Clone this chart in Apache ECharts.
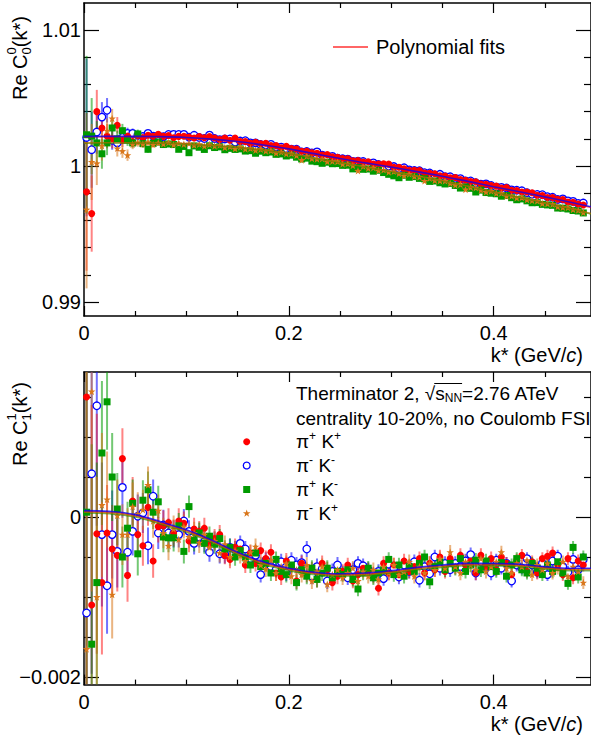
<!DOCTYPE html>
<html>
<head>
<meta charset="utf-8">
<script src="https://cdn.jsdelivr.net/npm/echarts@6/dist/echarts.min.js"></script>
<style>
html, body { margin: 0; padding: 0; background: #fff; }
#chart { width: 591px; height: 738px; }
</style>
</head>
<body>
<div id="chart"></div>
<script>
// bin centres (GeV/c)
var kBins = [0.0025,0.0075,0.0125,0.0175,0.0225,0.0275,0.0325,0.0375,0.0425,0.0475,
  0.0525,0.0575,0.0625,0.0675,0.0725,0.0775,0.0825,0.0875,0.0925,0.0975,
  0.1025,0.1075,0.1125,0.1175,0.1225,0.1275,0.1325,0.1375,0.1425,0.1475,
  0.1525,0.1575,0.1625,0.1675,0.1725,0.1775,0.1825,0.1875,0.1925,0.1975,
  0.2025,0.2075,0.2125,0.2175,0.2225,0.2275,0.2325,0.2375,0.2425,0.2475,
  0.2525,0.2575,0.2625,0.2675,0.2725,0.2775,0.2825,0.2875,0.2925,0.2975,
  0.3025,0.3075,0.3125,0.3175,0.3225,0.3275,0.3325,0.3375,0.3425,0.3475,
  0.3525,0.3575,0.3625,0.3675,0.3725,0.3775,0.3825,0.3875,0.3925,0.3975,
  0.4025,0.4075,0.4125,0.4175,0.4225,0.4275,0.4325,0.4375,0.4425,0.4475,
  0.4525,0.4575,0.4625,0.4675,0.4725,0.4775,0.4825,0.4875];

// Re C00 (top panel)
var topRed = [0.9981,0.9965,1.004,1.0028,1.0022,1.002,1.003,1.0019,1.0022,1.0018,
  1.00224,1.0021,1.00227,1.00218,1.00233,1.00218,1.00224,1.00208,1.00218,1.00219,
  1.00213,1.00206,1.00217,1.00208,1.00217,1.00206,1.00195,1.00205,1.00189,1.00205,
  1.00181,1.00181,1.00168,1.00175,1.00164,1.00167,1.0015,1.0015,1.00135,1.00146,
  1.00128,1.00125,1.00108,1.00109,1.00098,1.00094,1.00081,1.00084,1.00068,1.00065,
  1.00055,1.00054,1.00039,1.0004,1.0003,1.00032,1.00015,1.00014,1.00016,1.00015,
  0.99991,0.99991,0.9998,0.99969,0.99969,0.99967,0.99948,0.99947,0.99943,0.99929,
  0.99927,0.99914,0.99915,0.999,0.99896,0.99886,0.99885,0.99867,0.99866,0.99856,
  0.99852,0.99838,0.99842,0.99822,0.9982,0.99809,0.99809,0.99804,0.99785,0.99783,
  0.99769,0.99768,0.99756,0.99754,0.99736,0.99734,0.99721,0.99714];
var topBlue = [1.0021,1.0012,1.0025,1.0036,1.0041,1.0019,1.0017,1.0021,1.0024,1.0024,
  1.00226,1.00217,1.0024,1.0022,1.00222,1.00216,1.00232,1.00233,1.00232,1.00233,
  1.00212,1.00226,1.0021,1.00202,1.00227,1.00202,1.00194,1.00199,1.00199,1.00176,
  1.00184,1.00186,1.0017,1.0017,1.00158,1.00156,1.00159,1.00141,1.00139,1.00128,
  1.00124,1.00123,1.00103,1.00107,1.00097,1.00104,1.0008,1.00064,1.00071,1.00058,
  1.00053,1.00051,1.00034,1.00036,1.00033,1.0002,1.00023,1.00011,0.99993,1.0,
  0.99996,0.99982,0.99987,0.99972,0.99967,0.99965,0.99951,0.99949,0.99934,0.99939,
  0.99922,0.99921,0.99909,0.99907,0.99891,0.9989,0.99877,0.99867,0.99869,0.99857,
  0.99845,0.99843,0.99838,0.99825,0.99822,0.99818,0.99803,0.99792,0.99791,0.99789,
  0.99774,0.9977,0.99754,0.99758,0.99744,0.9974,0.99725,0.99728];
var topGreen = [1.0023,1.0022,1.0017,1.0009,1.0017,1.0028,1.002,1.0026,1.0019,1.0017,
  1.00236,1.00165,1.00123,1.00167,1.00177,1.00158,1.00162,1.00158,1.00123,1.00144,
  1.00098,1.00148,1.00138,1.00122,1.00149,1.00136,1.00141,1.0012,1.0013,1.00122,
  1.00126,1.0011,1.00113,1.00094,1.00109,1.00098,1.00103,1.00086,1.00089,1.00074,
  1.0008,1.00065,1.00052,1.00058,1.00036,1.00032,1.0002,1.00028,1.00017,1.00018,
  1.00005,1.00006,0.99979,0.99988,0.99976,0.99978,0.99962,0.99969,0.99952,0.99939,
  0.99928,0.99914,0.99932,0.99917,0.99922,0.99909,0.99906,0.99887,0.9989,0.99877,
  0.99868,0.99872,0.99857,0.99838,0.99846,0.99836,0.99809,0.99823,0.99805,0.998,
  0.99796,0.99778,0.99783,0.99767,0.99752,0.99758,0.99744,0.9973,0.99731,0.99718,
  0.99714,0.99711,0.99691,0.9969,0.99684,0.99673,0.99669,0.99655];
var topOrange = [0.9968,1.0003,1.0002,1.0015,1.0026,1.0035,1.0013,1.0011,1.0008,1.0016,
  1.00174,1.00162,1.00175,1.00158,1.00171,1.00163,1.00173,1.00156,1.00167,1.0016,
  1.00166,1.00154,1.00161,1.00147,1.00159,1.00148,1.00154,1.00137,1.00144,1.00128,
  1.0014,1.00126,1.0013,1.00116,1.00124,1.00111,1.00114,1.00096,1.00103,1.0009,
  1.00092,1.00077,1.00044,1.00073,1.00056,1.00052,1.00053,1.00033,1.00035,1.00034,
  1.00015,1.00018,1.00004,0.99965,0.99999,0.99984,0.99988,0.99967,0.99972,0.99956,
  0.99961,0.99945,0.9993,0.99941,0.99924,0.9992,0.99891,0.99911,0.99894,0.99892,
  0.99891,0.99874,0.9986,0.99865,0.99828,0.99844,0.99841,0.99823,0.99809,0.99817,
  0.998,0.99801,0.99779,0.9978,0.99766,0.99768,0.99752,0.99746,0.99744,0.99724,
  0.99723,0.99719,0.99701,0.99696,0.99695,0.99681,0.99676,0.99658];
var topErr = [0.0058,0.0028,0.0016,0.0011,0.0009,0.0007,0.0006,0.0005,0.00042,0.00036,
  0.00032,0.00028,0.00025,0.00023,0.00021,0.0002,0.00018,0.00017,0.00016,0.00015,
  0.00014,0.00013,0.00013,0.00012,0.00012,0.00011,0.00011,0.0001,0.0001,0.0001,
  0.00009,0.00009,0.00009,0.00009,0.00009,0.00009,0.00009,0.00009,0.00009,0.00009,
  0.00008,0.00008,0.00008,0.00008,0.00008,0.00008,0.00008,0.00008,0.00008,0.00008,
  0.00007,0.00007,0.00007,0.00007,0.00007,0.00007,0.00007,0.00007,0.00007,0.00007,
  0.00006,0.00006,0.00006,0.00006,0.00006,0.00006,0.00006,0.00006,0.00006,0.00006,
  0.00006,0.00006,0.00006,0.00006,0.00006,0.00006,0.00006,0.00006,0.00006,0.00006,
  0.00006,0.00006,0.00006,0.00006,0.00006,0.00006,0.00006,0.00006,0.00006,0.00006,
  0.00006,0.00006,0.00006,0.00006,0.00006,0.00006,0.00006,0.00006];

// Re C11 (bottom panel)
var botRed = [150e-5,-110e-5,-21e-5,-82e-5,-20e-5,-40e-5,-48e-5,73e-5,-73e-5,20e-5,
  -22e-5,-36e-5,12e-5,-55e-5,-12e-5,-11e-5,-7e-5,-20e-5,-5e-5,-8e-5,
  -30e-5,-15e-5,-18e-5,-14e-5,-35e-5,-27e-5,-22e-5,-48e-5,-53e-5,-38e-5,
  -40e-5,-60e-5,-45e-5,-58e-5,-42e-5,-52e-5,-44e-5,-70e-5,-75e-5,-55e-5,
  -62e-5,-80e-5,-58e-5,-72e-5,-66e-5,-78e-5,-58e-5,-66e-5,-82e-5,-74e-5,
  -68e-5,-60e-5,-80e-5,-72e-5,-64e-5,-66e-5,-74e-5,-89e-5,-58e-5,-70e-5,
  -60e-5,-72e-5,-55e-5,-68e-5,-62e-5,-52e-5,-70e-5,-58e-5,-66e-5,-50e-5,
  -68e-5,-52e-5,-63e-5,-48e-5,-60e-5,-55e-5,-70e-5,-48e-5,-62e-5,-52e-5,
  -66e-5,-50e-5,-58e-5,-72e-5,-54e-5,-48e-5,-68e-5,-56e-5,-70e-5,-52e-5,
  -49e-5,-45e-5,-60e-5,-72e-5,-52e-5,-76e-5,-55e-5,-60e-5];
var botBlue = [-120e-5,54e-5,139e-5,-22e-5,-86e-5,-22e-5,-43e-5,37e-5,-44e-5,-18e-5,
  1e-5,5e-5,-36e-5,26e-5,-20e-5,-10e-5,-20e-5,-21e-5,-22e-5,-5e-5,
  -18e-5,-33e-5,-25e-5,-31e-5,-44e-5,-30e-5,-46e-5,-47e-5,-38e-5,-41e-5,
  -33e-5,-40e-5,-52e-5,-48e-5,-72e-5,-54e-5,-62e-5,-66e-5,-56e-5,-70e-5,
  -54e-5,-60e-5,-57e-5,-40e-5,-74e-5,-62e-5,-65e-5,-80e-5,-68e-5,-60e-5,
  -70e-5,-76e-5,-66e-5,-58e-5,-61e-5,-66e-5,-72e-5,-68e-5,-77e-5,-59e-5,
  -64e-5,-75e-5,-60e-5,-68e-5,-56e-5,-79e-5,-62e-5,-71e-5,-50e-5,-64e-5,
  -58e-5,-66e-5,-58e-5,-62e-5,-55e-5,-47e-5,-70e-5,-56e-5,-62e-5,-70e-5,
  -54e-5,-64e-5,-58e-5,-80e-5,-60e-5,-64e-5,-52e-5,-60e-5,-69e-5,-58e-5,
  -72e-5,-55e-5,-49e-5,-62e-5,-69e-5,-53e-5,-66e-5,-53e-5];
var botGreen = [6e-5,-159e-5,-82e-5,80e-5,144e-5,50e-5,10e-5,-50e-5,-14e-5,17e-5,
  -46e-5,21e-5,34e-5,6e-5,19e-5,-25e-5,-26e-5,-26e-5,-11e-5,-43e-5,
  13e-5,-29e-5,-20e-5,-33e-5,-24e-5,-34e-5,-27e-5,-40e-5,-38e-5,-50e-5,
  -42e-5,-51e-5,-60e-5,-45e-5,-62e-5,-58e-5,-70e-5,-53e-5,-68e-5,-72e-5,
  -60e-5,-82e-5,-66e-5,-74e-5,-64e-5,-78e-5,-70e-5,-64e-5,-76e-5,-68e-5,
  -72e-5,-66e-5,-78e-5,-90e-5,-70e-5,-64e-5,-76e-5,-70e-5,-66e-5,-53e-5,
  -72e-5,-60e-5,-74e-5,-62e-5,-68e-5,-58e-5,-50e-5,-81e-5,-62e-5,-56e-5,
  -66e-5,-58e-5,-64e-5,-52e-5,-68e-5,-60e-5,-54e-5,-66e-5,-55e-5,-62e-5,
  -68e-5,-57e-5,-74e-5,-60e-5,-52e-5,-66e-5,-70e-5,-58e-5,-64e-5,-72e-5,
  -60e-5,-68e-5,-56e-5,-70e-5,-83e-5,-38e-5,-75e-5,-50e-5];
var botOrange = [-165e-5,157e-5,-100e-5,15e-5,22e-5,-97e-5,2e-5,-22e-5,-22e-5,13e-5,
  4e-5,9e-5,40e-5,-5e-5,8e-5,-20e-5,-36e-5,-15e-5,-28e-5,-12e-5,
  -25e-5,-20e-5,-32e-5,-22e-5,-38e-5,-30e-5,-45e-5,-34e-5,-50e-5,-42e-5,
  -48e-5,-55e-5,-44e-5,-37e-5,-60e-5,-65e-5,-54e-5,-70e-5,-62e-5,-58e-5,
  -74e-5,-66e-5,-72e-5,-60e-5,-80e-5,-68e-5,-62e-5,-84e-5,-72e-5,-66e-5,
  -76e-5,-70e-5,-64e-5,-80e-5,-68e-5,-74e-5,-66e-5,-78e-5,-62e-5,-70e-5,
  -60e-5,-72e-5,-68e-5,-56e-5,-74e-5,-62e-5,-70e-5,-58e-5,-66e-5,-52e-5,
  -64e-5,-44e-5,-62e-5,-70e-5,-56e-5,-60e-5,-66e-5,-52e-5,-68e-5,-62e-5,
  -56e-5,-44e-5,-64e-5,-70e-5,-58e-5,-62e-5,-54e-5,-72e-5,-60e-5,-66e-5,
  -58e-5,-70e-5,-64e-5,-56e-5,-74e-5,-62e-5,-68e-5,-82e-5];
var botErr = [400e-5,250e-5,150e-5,90e-5,60e-5,55e-5,45e-5,38e-5,33e-5,30e-5,
  27e-5,25e-5,23e-5,21e-5,20e-5,19e-5,18e-5,17e-5,16e-5,15e-5,
  14e-5,14e-5,13e-5,13e-5,12e-5,12e-5,12e-5,11e-5,11e-5,11e-5,
  10e-5,10e-5,10e-5,10e-5,10e-5,10e-5,10e-5,10e-5,10e-5,10e-5,
  10e-5,10e-5,10e-5,10e-5,10e-5,10e-5,10e-5,10e-5,10e-5,10e-5,
  9e-5,9e-5,9e-5,9e-5,9e-5,9e-5,9e-5,9e-5,9e-5,9e-5,
  9e-5,9e-5,9e-5,9e-5,9e-5,9e-5,9e-5,9e-5,9e-5,9e-5,
  9e-5,9e-5,9e-5,9e-5,9e-5,9e-5,9e-5,9e-5,9e-5,9e-5,
  8e-5,8e-5,8e-5,8e-5,8e-5,8e-5,8e-5,8e-5,8e-5,8e-5,
  8e-5,8e-5,8e-5,8e-5,8e-5,8e-5,8e-5,8e-5];

// polynomial fits, sampled
var fitK = [0,0.025,0.05,0.075,0.1,0.125,0.15,0.175,0.2,0.225,0.25,0.275,0.3,0.325,0.35,0.375,0.4,0.425,0.45,0.475,0.495];
var topFitRed = [1.00215,1.00216,1.00216,1.00214,1.00208,1.00196,1.00178,1.00153,1.00123,1.00088,1.00052,1.0002,0.99989,0.99956,0.99922,0.99884,0.99845,0.99808,0.9977,0.9973,0.99696];
var topFitBlue = [1.00218,1.00218,1.00218,1.00216,1.0021,1.00198,1.0018,1.00155,1.00126,1.00091,1.00055,1.00023,0.99992,0.99959,0.99925,0.99887,0.99848,0.99811,0.99773,0.99733,0.997];
var topFitGreen = [1.00168,1.00169,1.00169,1.00167,1.00161,1.00151,1.00136,1.00116,1.00091,1.00058,1.00024,0.99991,0.99959,0.99925,0.9989,0.9985,0.99808,0.99768,0.99728,0.99686,0.99648];
var topFitOrange = [1.0017,1.00171,1.00171,1.00169,1.00163,1.00153,1.00138,1.00118,1.00093,1.0006,1.00026,0.99993,0.99961,0.99927,0.99892,0.99852,0.9981,0.9977,0.9973,0.99688,0.9965];
var botFitRed = [7e-5,6e-5,2e-5,-7e-5,-17e-5,-30e-5,-45e-5,-57e-5,-65e-5,-70e-5,-72e-5,-71e-5,-68e-5,-64e-5,-61e-5,-59e-5,-59e-5,-60e-5,-63e-5,-65e-5,-65e-5];
var botFitBlue = [8e-5,7e-5,3e-5,-6e-5,-16e-5,-29e-5,-44e-5,-56e-5,-64e-5,-69e-5,-71e-5,-70e-5,-67e-5,-63e-5,-60e-5,-58e-5,-58e-5,-59e-5,-62e-5,-64e-5,-64e-5];
var botFitGreen = [5e-5,4e-5,0,-9e-5,-19e-5,-32e-5,-47e-5,-59e-5,-67e-5,-72e-5,-74e-5,-73e-5,-70e-5,-66e-5,-63e-5,-61e-5,-61e-5,-62e-5,-65e-5,-67e-5,-67e-5];
var botFitOrange = [6e-5,5e-5,1e-5,-8e-5,-18e-5,-31e-5,-46e-5,-58e-5,-66e-5,-71e-5,-73e-5,-72e-5,-69e-5,-65e-5,-62e-5,-60e-5,-60e-5,-61e-5,-64e-5,-66e-5,-66e-5];

// ticks and labels
var xMajor = [0, 0.2, 0.4];
var xMinor = [0.05, 0.1, 0.15, 0.25, 0.3, 0.35, 0.45];
var xLabels = ['0', '0.2', '0.4'];
var topMajor = [0.99, 1, 1.01];
var topMinor = [0.992, 0.994, 0.996, 0.998, 1.002, 1.004, 1.006, 1.008];
var topLabels = ['0.99', '1', '1.01'];
var botMajor = [-0.002, 0];
var botMinor = [-0.0015, -0.001, -0.0005, 0.0005, 0.001, 0.0015];
var botLabels = ['\u22120.002', '0'];

var FONT = 'Liberation Sans';
// five-pointed star outline (unit size 20)
var starPts = [[0,-10],[2.35,-3.24],[9.51,-3.09],[3.8,1.24],[5.88,8.09],[0,4],[-5.88,8.09],[-3.8,1.24],[-9.51,-3.09],[-2.35,-3.24]];
var STAR = 'path://M' + starPts.map(function (p) { return p[0] + ',' + p[1]; }).join('L') + 'Z';
var sets = [
  { color: '#ff0000', bar: 'rgba(255,30,30,0.55)', symbol: 'circle', size: 7, fill: '#ff0000' },
  { color: '#0000ff', bar: 'rgba(20,20,255,0.6)', symbol: 'circle', size: 7.5, fill: '#ffffff' },
  { color: '#009a00', bar: 'rgba(0,154,0,0.55)', symbol: 'rect', size: 7, fill: '#009a00' },
  { color: '#d9761a', bar: 'rgba(217,118,26,0.55)', symbol: STAR, size: 7.5, fill: '#d9761a' }
];
var drawOrder = [1, 0, 2, 3];
var fitColors = ['rgba(255,0,0,0.65)', 'rgba(0,0,255,0.75)', 'rgba(0,150,0,0.6)', 'rgba(204,102,0,0.6)'];

var panels = [
  { ymin: 0.98897, ymax: 1.01199, major: topMajor, minor: topMinor, labels: topLabels,
    vals: [topRed, topBlue, topGreen, topOrange], err: topErr,
    fits: [topFitRed, topFitBlue, topFitGreen, topFitOrange] },
  { ymin: -0.002095, ymax: 0.0018125, major: botMajor, minor: botMinor, labels: botLabels,
    vals: [botRed, botBlue, botGreen, botOrange], err: botErr,
    fits: [botFitRed, botFitBlue, botFitGreen, botFitOrange] }
];

function pickLabel(vals, labels) {
  return function (v) {
    var best = 0;
    for (var i = 1; i < vals.length; i++) {
      if (Math.abs(vals[i] - v) < Math.abs(vals[best] - v)) best = i;
    }
    return labels[best];
  };
}

var lineStyle = { color: '#000', width: 1.5 };
var tickStyle = { color: '#000', width: 1.2 };
var labelStyle = { fontFamily: FONT, fontSize: 20, color: '#000' };

var grids = [], xAxes = [], yAxes = [], series = [];
panels.forEach(function (p, g) {
  grids.push({ left: 84, width: 512, top: g === 0 ? 3 : 372, height: g === 0 ? 313 : 312.6 });
  var xb = { gridIndex: g, type: 'value', min: 0, max: 0.495, splitLine: { show: false } };
  xAxes.push(
    Object.assign({}, xb, { position: 'bottom', axisLine: { onZero: false, lineStyle: lineStyle },
      axisTick: { inside: true, length: 10, customValues: xMajor, lineStyle: tickStyle },
      axisLabel: Object.assign({ customValues: xMajor, margin: 7, formatter: pickLabel(xMajor, xLabels) }, labelStyle) }),
    Object.assign({}, xb, { position: 'bottom', axisLine: { show: false, onZero: false },
      axisTick: { inside: true, length: 5, customValues: xMinor, lineStyle: tickStyle }, axisLabel: { show: false } }),
    Object.assign({}, xb, { position: 'top', axisLine: { onZero: false, lineStyle: lineStyle },
      axisTick: { inside: true, length: 10, customValues: xMajor, lineStyle: tickStyle }, axisLabel: { show: false } }),
    Object.assign({}, xb, { position: 'top', axisLine: { show: false, onZero: false },
      axisTick: { inside: true, length: 5, customValues: xMinor, lineStyle: tickStyle }, axisLabel: { show: false } })
  );
  var yb = { gridIndex: g, type: 'value', min: p.ymin, max: p.ymax, splitLine: { show: false } };
  yAxes.push(
    Object.assign({}, yb, { position: 'left', axisLine: { onZero: false, lineStyle: lineStyle },
      axisTick: { inside: true, length: 15, customValues: p.major, lineStyle: tickStyle },
      axisLabel: Object.assign({ customValues: p.major, margin: 3, formatter: pickLabel(p.major, p.labels) }, labelStyle) }),
    Object.assign({}, yb, { position: 'left', axisLine: { show: false, onZero: false },
      axisTick: { inside: true, length: 7, customValues: p.minor, lineStyle: tickStyle }, axisLabel: { show: false } }),
    Object.assign({}, yb, { position: 'right', axisLine: { onZero: false, lineStyle: lineStyle },
      axisTick: { inside: true, length: 15, customValues: p.major, lineStyle: tickStyle }, axisLabel: { show: false } }),
    Object.assign({}, yb, { position: 'right', axisLine: { show: false, onZero: false },
      axisTick: { inside: true, length: 7, customValues: p.minor, lineStyle: tickStyle }, axisLabel: { show: false } })
  );

  var ax = g * 4;
  drawOrder.forEach(function (i) {
    var s = sets[i];
    var data = kBins.map(function (k, j) { return [k, p.vals[i][j], p.err[j]]; });
    series.push({
      type: 'custom', xAxisIndex: ax, yAxisIndex: ax, z: 2, silent: true, clip: true,
      encode: { x: 0, y: 1 }, data: data,
      renderItem: function (params, api) {
        var k = api.value(0), v = api.value(1), e = api.value(2);
        var lo = Math.max(v - e, p.ymin), hi = Math.min(v + e, p.ymax);
        if (!(hi > lo)) return null;
        var a = api.coord([k, lo]), b = api.coord([k, hi]);
        return { type: 'line', shape: { x1: a[0], y1: a[1], x2: b[0], y2: b[1] },
          style: { stroke: s.bar, lineWidth: 2 } };
      }
    });
  });
  drawOrder.forEach(function (i) {
    var s = sets[i];
    var data = kBins.map(function (k, j) { return [k, p.vals[i][j]]; });
    series.push({
      type: 'scatter', xAxisIndex: ax, yAxisIndex: ax, z: 3, silent: true,
      symbol: s.symbol, symbolSize: s.size, data: data,
      itemStyle: { color: s.fill, borderColor: s.color, borderWidth: s.fill === '#ffffff' ? 1.3 : 0, opacity: 1 }
    });
  });
  [0, 2, 3, 1].forEach(function (i) {
    series.push({
      type: 'line', xAxisIndex: ax, yAxisIndex: ax, z: 4, silent: true, smooth: 0.4,
      showSymbol: false, data: fitK.map(function (k, j) { return [k, p.fits[i][j]]; }),
      lineStyle: { color: fitColors[i], width: 1.6 }
    });
  });
});

// text helpers
var mctx = document.createElement('canvas').getContext('2d');
function textW(t, fs, italic) {
  mctx.font = (italic ? 'italic ' : '') + fs + 'px "' + FONT + '"';
  return mctx.measureText(t).width;
}
function layoutRuns(list, x0, y0, out) {
  var x = x0, start = x0;
  list.forEach(function (r) {
    var fs = r[1], dy = r[2] || 0, it = !!r[3];
    var sx = r[4] ? start : x;
    out.push({ type: 'text', x: sx, y: y0 + dy, silent: true,
      style: { text: r[0], fontSize: fs, fontFamily: FONT, fontStyle: it ? 'italic' : 'normal',
        fill: '#000', align: 'left', verticalAlign: 'middle' } });
    start = sx;
    x = Math.max(x, sx + textW(r[0], fs, it));
  });
  return x;
}

var graphic = [];
// y titles
[['0', 100], ['1', 466]].forEach(function (t) {
  var kids = [];
  layoutRuns([['Re C', 20], [t[0], 13, -9], [t[0], 13, 6, false, true], ['(k*)', 20]], 0, 0, kids);
  graphic.push({ type: 'group', x: 20, y: t[1], rotation: Math.PI / 2, children: kids });
});
// x titles
[355, 724].forEach(function (y) {
  var w = textW('k* (GeV/', 20) + textW('c', 20, true) + textW(')', 20);
  layoutRuns([['k* (GeV/', 20], ['c', 20, 0, true], [')', 20]], 583 - w, y, graphic);
});
// top legend
graphic.push({ type: 'line', silent: true, shape: { x1: 333, y1: 47, x2: 368, y2: 47 },
  style: { stroke: 'rgba(255,0,0,0.6)', lineWidth: 2 } });
layoutRuns([['Polynomial fits', 20]], 376, 47, graphic);
// bottom legend
var lx = layoutRuns([['Therminator 2, ', 19], ['\u221a', 19]], 296, 393, graphic);
var lx2 = layoutRuns([['s', 19], ['NN', 12, 5]], lx, 393, graphic);
layoutRuns([['=2.76 ATeV', 19]], lx2, 393, graphic);
graphic.push({ type: 'line', silent: true, shape: { x1: lx - 1, y1: 383.5, x2: lx2, y2: 383.5 },
  style: { stroke: '#000', lineWidth: 1 } });
layoutRuns([['centrality 10-20%, no Coulomb FSI', 19]], 296, 418, graphic);
var legendNames = [['+', '+'], ['-', '-'], ['+', '-'], ['-', '+']];
var legendY = [441.7, 465.5, 489.5, 513.5];
legendNames.forEach(function (n, i) {
  layoutRuns([['\u03c0', 19], [n[0], 12, -6], [' K', 19], [n[1], 12, -6]], 296, legendY[i], graphic);
});
graphic.push(
  { type: 'circle', silent: true, shape: { cx: 246.7, cy: legendY[0], r: 3.5 }, style: { fill: sets[0].color } },
  { type: 'circle', silent: true, shape: { cx: 246.7, cy: legendY[1], r: 3.4 }, style: { fill: '#fff', stroke: sets[1].color, lineWidth: 1.3 } },
  { type: 'rect', silent: true, shape: { x: 243.2, y: legendY[2] - 3.5, width: 7, height: 7 }, style: { fill: sets[2].color } },
  { type: 'polygon', silent: true, shape: { points: starPts.map(function (p) { return [246.7 + p[0] * 0.4, legendY[3] + p[1] * 0.4]; }) }, style: { fill: sets[3].color } }
);

var chart = echarts.init(document.getElementById('chart'), null, { renderer: 'svg' });
chart.setOption({
  animation: false,
  backgroundColor: '#fff',
  grid: grids,
  xAxis: xAxes,
  yAxis: yAxes,
  series: series,
  graphic: graphic
});
</script>
</body>
</html>
